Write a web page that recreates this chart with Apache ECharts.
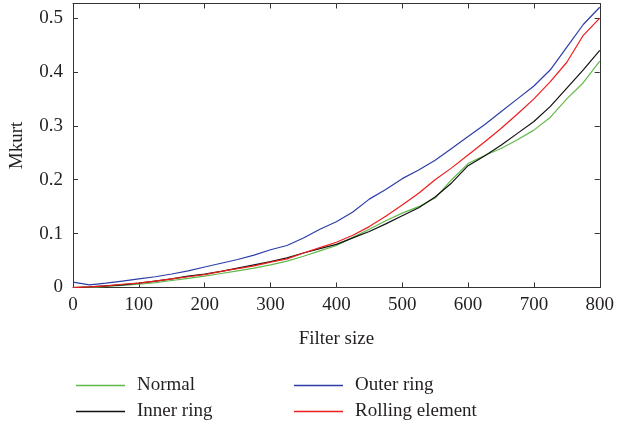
<!DOCTYPE html>
<html>
<head>
<meta charset="utf-8">
<script src="https://cdn.jsdelivr.net/npm/echarts@6/dist/echarts.min.js"></script>
<style>
  html, body { margin: 0; padding: 0; background: #fff; }
  #chart { width: 617px; height: 428px; }
</style>
</head>
<body>
<div id="chart"></div>
<script>
// filter size (x) and Mkurt values
const filterSize = [0, 25, 50, 75, 100, 125, 150, 175, 200, 225, 250, 275, 300, 325, 350, 375, 400,
  425, 450, 475, 500, 525, 550, 575, 600, 625, 650, 675, 700, 725, 750, 775, 800]
const normal = [0.000, 0.000, 0.002, 0.004, 0.006, 0.009, 0.013, 0.017, 0.021, 0.026, 0.031, 0.036, 0.042,
  0.049, 0.058, 0.068, 0.078, 0.093, 0.108, 0.124, 0.138, 0.150, 0.166, 0.200, 0.230, 0.245, 0.258,
  0.274, 0.292, 0.316, 0.350, 0.380, 0.420]
const innerRing = [0.000, 0.001, 0.003, 0.005, 0.008, 0.012, 0.016, 0.021, 0.025, 0.030, 0.036, 0.042, 0.048,
  0.055, 0.064, 0.072, 0.080, 0.092, 0.104, 0.118, 0.133, 0.148, 0.168, 0.194, 0.226, 0.244, 0.264,
  0.286, 0.308, 0.336, 0.370, 0.404, 0.440]
const outerRing = [0.010, 0.005, 0.008, 0.012, 0.016, 0.020, 0.025, 0.031, 0.038, 0.045, 0.052, 0.060, 0.070,
  0.078, 0.092, 0.108, 0.122, 0.140, 0.164, 0.182, 0.202, 0.218, 0.236, 0.258, 0.280, 0.302, 0.326,
  0.350, 0.374, 0.404, 0.446, 0.488, 0.520]
const rollingElement = [0.000, 0.001, 0.003, 0.006, 0.008, 0.012, 0.016, 0.020, 0.024, 0.030, 0.035, 0.040, 0.047,
  0.053, 0.064, 0.074, 0.084, 0.097, 0.113, 0.132, 0.153, 0.175, 0.200, 0.222, 0.246, 0.270, 0.295,
  0.322, 0.350, 0.382, 0.418, 0.468, 0.500]

const font = "'Liberation Serif', 'DejaVu Serif', serif"
const textColor = '#231f20'
const chart = echarts.init(document.getElementById('chart'))

function pairs(ys) {
  return filterSize.map((x, i) => [x, ys[i]])
}
function line(name, ys, color) {
  return {
    name: name,
    type: 'line',
    data: pairs(ys),
    showSymbol: false,
    symbol: 'none',
    lineStyle: { color: color, width: 1.2 },
    itemStyle: { color: color },
    animation: false
  }
}
const axisBase = {
  axisLine: { show: true, onZero: false, lineStyle: { color: '#333', width: 1 } },
  axisTick: { show: true, inside: true, length: 5, lineStyle: { color: '#333' } },
  splitLine: { show: false }
}
const legendText = { fontFamily: font, fontSize: 19, color: textColor, padding: [0, 0, 0, 7] }

chart.setOption({
  animation: false,
  grid: { left: 72.5, right: 14.5, top: 3.5, bottom: 140.5 },
  legend: [
    {
      left: 76, top: 376, orient: 'vertical', itemGap: 7, padding: 0,
      icon: 'rect', itemWidth: 49, itemHeight: 1.5,
      data: ['Normal', 'Inner ring'], textStyle: legendText
    },
    {
      left: 294, top: 376, orient: 'vertical', itemGap: 7, padding: 0,
      icon: 'rect', itemWidth: 49, itemHeight: 1.5,
      data: ['Outer ring', 'Rolling element'], textStyle: legendText
    }
  ],
  xAxis: [
    Object.assign({}, axisBase, {
      type: 'value', min: 0, max: 800, interval: 100,
      name: 'Filter size', nameLocation: 'middle', nameGap: 42,
      nameTextStyle: { fontFamily: font, fontSize: 19, color: textColor },
      axisLabel: { fontFamily: font, fontSize: 19, color: textColor, margin: 8 }
    }),
    Object.assign({}, axisBase, {
      type: 'value', min: 0, max: 800, interval: 100, position: 'top',
      axisLabel: { show: false }
    })
  ],
  yAxis: [
    Object.assign({}, axisBase, {
      type: 'value', min: 0, max: 0.527, interval: 0.1,
      name: 'Mkurt', nameLocation: 'middle', nameGap: 46,
      nameTextStyle: { fontFamily: font, fontSize: 19, color: textColor },
      axisLabel: { fontFamily: font, fontSize: 19, color: textColor, margin: 10, showMaxLabel: false }
    }),
    Object.assign({}, axisBase, {
      type: 'value', min: 0, max: 0.527, interval: 0.1, position: 'right',
      axisLabel: { show: false }
    })
  ],
  series: [
    line('Normal', normal, '#62b94a'),
    line('Inner ring', innerRing, '#111111'),
    line('Outer ring', outerRing, '#2c3ea6'),
    line('Rolling element', rollingElement, '#ee1c1c')
  ]
})
</script>
</body>
</html>
